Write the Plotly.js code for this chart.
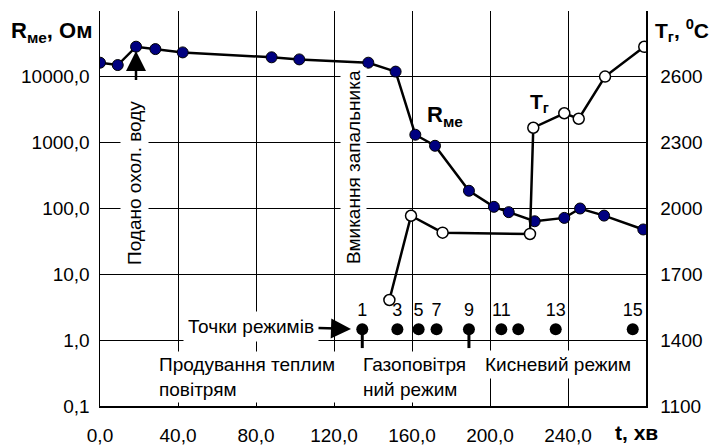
<!DOCTYPE html>
<html><head><meta charset="utf-8">
<script src="https://cdn.plot.ly/plotly-3.0.1.min.js"></script>
<style>body{margin:0;background:#fff}#chart{width:717px;height:446px}</style>
</head><body><div id="chart"></div>
<script>
// R_me (Ohm) vs time, minutes
const rmeTime = [0, 9.1, 18.5, 28.4, 42.4, 88, 102.2, 137.6, 151.6, 161.7, 171.8, 189.2, 202, 209.6, 222.9, 238.1, 246.2, 258.5, 278.6];
const rmeOhm  = [16400, 15100, 28700, 26400, 23500, 19800, 18400, 16400, 12000, 1320, 897, 186, 106, 88, 64, 72, 100, 78, 48];
// T_g (deg C) vs time
const tgTime = [148.4, 159.5, 175.7, 220.5, 222.2, 238.1, 245.5, 259, 279.1];
const tgTemp = [1583, 1967, 1890, 1884, 2368, 2434, 2409, 2601, 2737];
// regime points
const regimeTime  = [134.5, 152.5, 163.4, 172.6, 189.2, 205.8, 214.5, 233.7, 273.2];
const regimeLevel = [1450, 1450, 1450, 1450, 1450, 1450, 1450, 1450, 1450];
const regimeLabel = ["1", "3", "5", "7", "9", "11", "", "13", "15"];
const regimeStem  = [86, 0, 0, 0, 86, 0, 0, 0, 0];
// ticks
const xTickVals = [0, 40, 80, 120, 160, 200, 240, 280];
const xTickText = ["0,0", "40,0", "80,0", "120,0", "160,0", "200,0", "240,0", ""];
const yTickVals = [0.1, 1, 10, 100, 1000, 10000];
const yTickText = ["0,1", "1,0", "10,0", "100,0", "1000,0", "10000,0"];
const y2TickVals = [1100, 1400, 1700, 2000, 2300, 2600, 2900];
const y2TickText = ["1100", "1400", "1700", "2000", "2300", "2600", ""];

const W = 717, H = 446, L = 100, R = 71, T = 11, B = 40;
const pw = W - L - R, ph = H - T - B;
function px(x) { return (x - L) / pw; }
function py(y) { return (H - B - y) / ph; }
const F = '"Liberation Sans", Arial, sans-serif';
const black = '#000';

const traces = [
  {
    x: rmeTime, y: rmeOhm, type: 'scatter', mode: 'lines+markers', yaxis: 'y',
    line: {color: black, width: 2.5},
    marker: {color: '#000080', size: 11, line: {color: black, width: 1}},
    hoverinfo: 'skip'
  },
  {
    x: tgTime, y: tgTemp, type: 'scatter', mode: 'lines+markers', yaxis: 'y2',
    line: {color: black, width: 2.5},
    marker: {color: '#fff', size: 11, line: {color: black, width: 1.5}},
    hoverinfo: 'skip'
  },
  {
    x: regimeTime, y: regimeLevel, type: 'scatter', mode: 'markers+text', yaxis: 'y2',
    text: regimeLabel, textposition: 'top center',
    textfont: {family: F, size: 18, color: black},
    marker: {color: black, size: 12},
    error_y: {type: 'data', symmetric: false, array: regimeStem.map(() => 0), arrayminus: regimeStem,
              width: 0, thickness: 3, color: black},
    hoverinfo: 'skip'
  }
];

const ann = (o) => Object.assign({xref: 'paper', yref: 'paper', showarrow: false,
  xanchor: 'center', yanchor: 'middle',
  font: {family: F, size: 19, color: black}}, o);

const layout = {
  width: W, height: H,
  margin: {l: L, r: R, t: T, b: B},
  paper_bgcolor: '#fff', plot_bgcolor: '#fff',
  showlegend: false,
  font: {family: F, size: 19, color: black},
  xaxis: {
    range: [0, 280], tickvals: xTickVals, ticktext: xTickText,
    ticks: 'inside', ticklen: 5, tickcolor: black, tickwidth: 1,
    showline: true, linecolor: black, linewidth: 1.5,
    showgrid: true, gridcolor: black, gridwidth: 1, zeroline: false,
    tickfont: {family: F, size: 19, color: black}, ticklabelstandoff: 12
  },
  yaxis: {
    type: 'log', range: [-1, 5], tickvals: yTickVals, ticktext: yTickText,
    ticks: 'inside', ticklen: 5, tickcolor: black,
    showline: true, linecolor: black, linewidth: 1.5,
    showgrid: true, gridcolor: black, gridwidth: 1, zeroline: false,
    tickfont: {family: F, size: 19, color: black}, ticklabelstandoff: 5
  },
  yaxis2: {
    overlaying: 'y', side: 'right', range: [1100, 2900],
    tickvals: y2TickVals, ticktext: y2TickText,
    ticks: 'inside', ticklen: 5, tickcolor: black,
    showline: true, linecolor: black, linewidth: 1.5,
    showgrid: false, zeroline: false,
    tickfont: {family: F, size: 19, color: black}, ticklabelstandoff: 9
  },
  annotations: [
    ann({text: '<b>R<sub>ме</sub>, Ом</b>', x: px(94), xanchor: 'right', y: py(32), font: {family: F, size: 22, color: black}}),
    ann({text: '<b>T<sub>г</sub>, <sup>0</sup>C</b>', x: px(653), xanchor: 'left', y: py(30), font: {family: F, size: 21, color: black}}),
    ann({text: '<b>t, хв</b>', x: px(636), y: py(433), font: {family: F, size: 21, color: black}}),
    ann({text: '<b>R<sub>ме</sub></b>', x: px(445), y: py(116), font: {family: F, size: 22, color: black}}),
    ann({text: '<b>T<sub>г</sub></b>', x: px(539), y: py(103), font: {family: F, size: 21, color: black}}),
    ann({text: 'Подано охол. воду', textangle: -90, x: px(134), y: py(183), bgcolor: '#fff', borderpad: 3}),
    ann({text: ' ', x: px(136), y: py(51), showarrow: true, ax: 0, ay: 41,
         arrowhead: 2, arrowsize: 1.6, arrowwidth: 2.5, arrowcolor: black}),
    ann({text: 'Вмикання запальника', textangle: -90, x: px(353), y: py(167), bgcolor: '#fff', borderpad: 2}),
    ann({text: 'Точки режимів', x: px(351), y: py(329), showarrow: true, ax: -100, ay: -3,
         arrowhead: 2, arrowsize: 1.6, arrowwidth: 2.5, arrowcolor: black, bgcolor: '#fff', borderpad: 4}),
    ann({text: 'Продування теплим<br>повітрям', x: px(156), xanchor: 'left', y: py(377), align: 'left', bgcolor: '#fff', borderpad: 2}),
    ann({text: 'Газоповітря<br>ний режим', x: px(360), xanchor: 'left', y: py(377), align: 'left', bgcolor: '#fff', borderpad: 2}),
    ann({text: 'Кисневий режим', x: px(481), xanchor: 'left', y: py(364), bgcolor: '#fff', borderpad: 3})
  ]
};

Plotly.newPlot('chart', traces, layout, {staticPlot: true, displayModeBar: false});
</script>
</body></html>
